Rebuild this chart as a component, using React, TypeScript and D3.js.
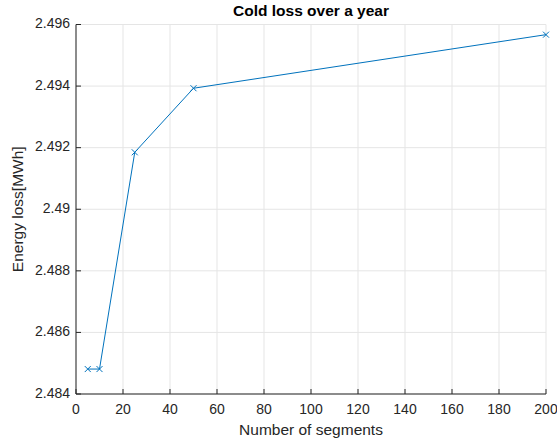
import React from "react";
import * as d3 from "d3";

const segments = [5, 10, 25, 50, 200];
const energyLoss = [2.48481, 2.48481, 2.49185, 2.49393, 2.49567];
const xTicks = [0, 20, 40, 60, 80, 100, 120, 140, 160, 180, 200];
const yTicks = [2.484, 2.486, 2.488, 2.49, 2.492, 2.494, 2.496];
const yTickLabels = ["2.484", "2.486", "2.488", "2.49", "2.492", "2.494", "2.496"];

const W = 557, H = 443;
const L = 76, R = 546, T = 24.5, B = 394;
const font = "'Liberation Sans', Arial, Helvetica, sans-serif";

export default function App() {
  const x = d3.scaleLinear().domain([0, 200]).range([L, R]);
  const y = d3.scaleLinear().domain([2.484, 2.496]).range([B, T]);
  const line = d3.line<number>().x((_, i) => x(segments[i])).y((d) => y(d));
  const ax = "#262626";
  const grid = "#e5e5e5";
  const blue = "#0072BD";
  return (
    <svg width={W} height={H} style={{ position: "absolute", left: 0, top: 0, background: "#fff" }}>
      <rect x={0} y={0} width={W} height={H} fill="#fff" />
      {xTicks.map((t) => (
        <line key={"gx" + t} x1={x(t)} x2={x(t)} y1={T} y2={B} stroke={grid} strokeWidth={1} />
      ))}
      {yTicks.map((t) => (
        <line key={"gy" + t} x1={L} x2={R} y1={y(t)} y2={y(t)} stroke={grid} strokeWidth={1} />
      ))}
      <line x1={L} x2={R} y1={B} y2={B} stroke={ax} strokeWidth={1} />
      <line x1={L} x2={L} y1={T} y2={B} stroke={ax} strokeWidth={1} />
      {xTicks.map((t) => (
        <g key={"tx" + t}>
          <line x1={x(t)} x2={x(t)} y1={B} y2={B - 5} stroke={ax} />
          <text x={x(t)} y={B + 16} textAnchor="middle" dominantBaseline="middle" fontFamily={font} fontSize={14} fill={ax}>
            {t}
          </text>
        </g>
      ))}
      {yTicks.map((t, i) => (
        <g key={"ty" + t}>
          <line x1={L} x2={L + 5} y1={y(t)} y2={y(t)} stroke={ax} />
          <text x={L - 6} y={y(t)} textAnchor="end" dominantBaseline="middle" fontFamily={font} fontSize={14} fill={ax}>
            {yTickLabels[i]}
          </text>
        </g>
      ))}
      <path d={line(energyLoss) || ""} fill="none" stroke={blue} strokeWidth={1} />
      {energyLoss.map((v, i) => {
        const cx = x(segments[i]), cy = y(v), s = 3;
        return (
          <path key={"m" + i} d={`M${cx - s},${cy - s}L${cx + s},${cy + s}M${cx - s},${cy + s}L${cx + s},${cy - s}`} stroke={blue} strokeWidth={1} fill="none" />
        );
      })}
      <text x={(L + R) / 2} y={12} textAnchor="middle" dominantBaseline="middle" fontFamily={font} fontSize={15.5} fontWeight="bold" fill="#000">
        Cold loss over a year
      </text>
      <text x={(L + R) / 2} y={431} textAnchor="middle" dominantBaseline="middle" fontFamily={font} fontSize={15.5} fill={ax}>
        Number of segments
      </text>
      <text transform={`translate(19,${(T + B) / 2}) rotate(-90)`} textAnchor="middle" dominantBaseline="middle" fontFamily={font} fontSize={15.5} fill={ax}>
        Energy loss[MWh]
      </text>
    </svg>
  );
}
